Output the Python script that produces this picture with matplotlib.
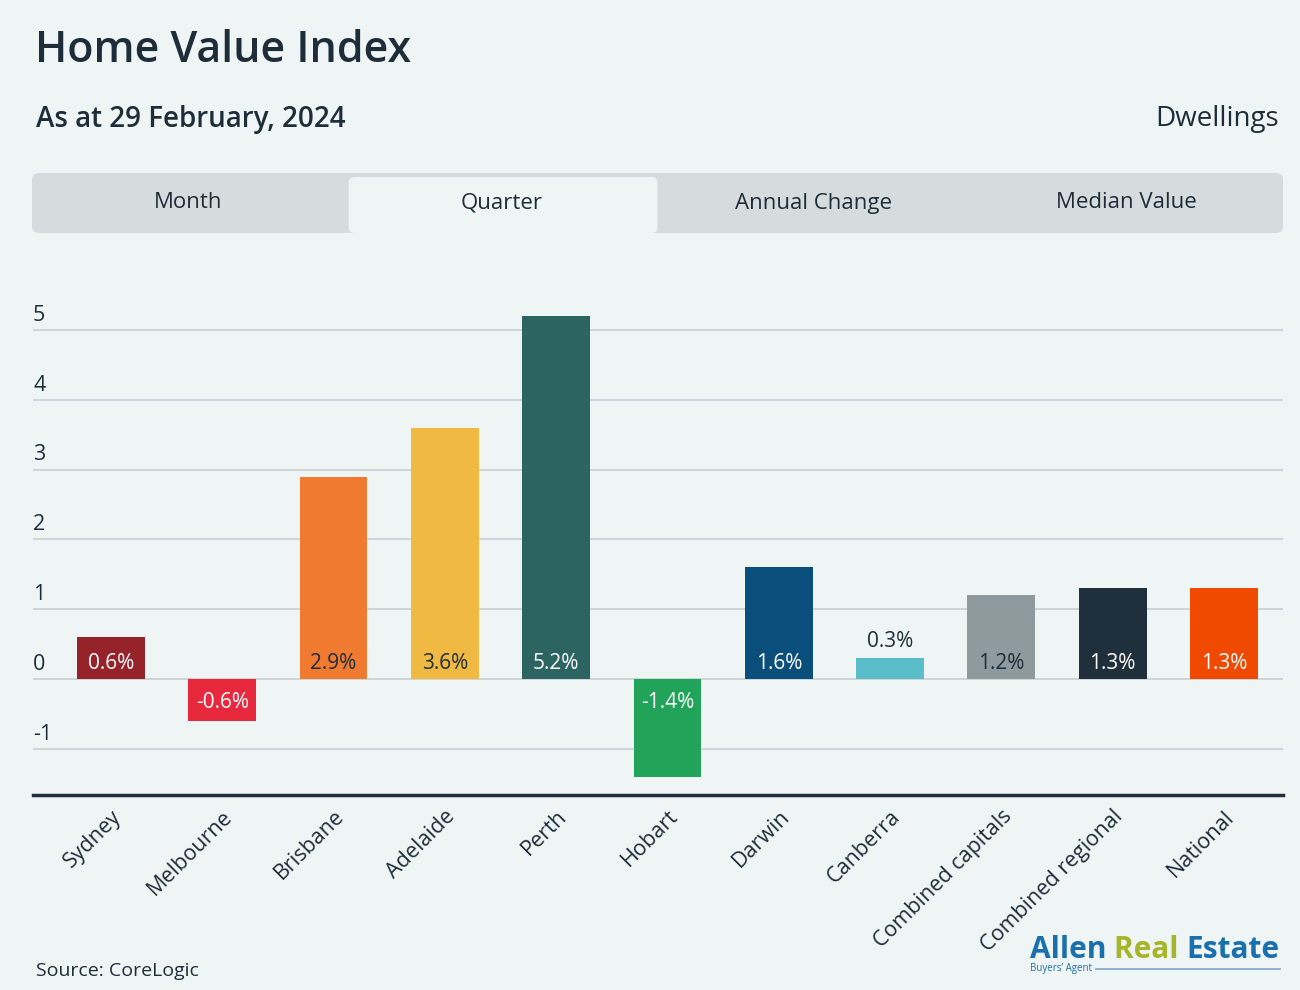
import matplotlib
matplotlib.use("Agg")
import matplotlib.pyplot as plt
from matplotlib.patches import FancyBboxPatch
from matplotlib.lines import Line2D

# data (quarterly change, %)
cities = ['Sydney', 'Melbourne', 'Brisbane', 'Adelaide', 'Perth', 'Hobart',
          'Darwin', 'Canberra', 'Combined capitals', 'Combined regional', 'National']
quarter_change = [0.6, -0.6, 2.9, 3.6, 5.2, -1.4, 1.6, 0.3, 1.2, 1.3, 1.3]
bar_colors = ['#96232a', '#e8283c', '#f07a30', '#f0b942', '#2b6460', '#21a45a',
              '#0a4f7c', '#5bbdc9', '#8f9a9e', '#1f2f3b', '#f04a00']
label_colors = ['white', 'white', '#1e2d3a', '#1e2d3a', 'white', 'white',
                'white', '#1e2d3a', '#1e2d3a', 'white', 'white']
y_ticks = [-1, 0, 1, 2, 3, 4, 5]
tabs = ['Month', 'Quarter', 'Annual Change', 'Median Value']
active_tab = 'Quarter'

BG = '#eff4f5'
TXT = '#1e2d3a'
plt.rcParams['font.family'] = ['Open Sans', 'DejaVu Sans']

fig = plt.figure(figsize=(13, 9.9), dpi=100, facecolor=BG)
W, H = 1300, 990


def fx(px):
    return px / W


def fy(py):
    return 1 - py / H


# header
fig.text(fx(35), fy(50), 'Home Value Index', fontsize=31, color=TXT, va='center', ha='left',
         fontweight='semibold')
fig.text(fx(36), fy(119), 'As at 29 February, 2024', fontsize=20, color=TXT, va='center',
         ha='left', fontweight='semibold')
fig.text(fx(1279), fy(119), 'Dwellings', fontsize=20, color=TXT, va='center', ha='right')

# tab strip
strip = FancyBboxPatch((fx(32), fy(233)), fx(1283) - fx(32), fy(173) - fy(233),
                       boxstyle='round,pad=0,rounding_size=0.006', transform=fig.transFigure,
                       facecolor='#d6dcdd', edgecolor='none')
fig.patches.append(strip)
tab_w = (1283 - 32) / len(tabs)
for i, name in enumerate(tabs):
    left = 32 + i * tab_w
    if name == active_tab:
        act = FancyBboxPatch((fx(left + 4), fy(233)), fx(tab_w - 4), fy(177) - fy(233),
                             boxstyle='round,pad=0,rounding_size=0.005',
                             transform=fig.transFigure, facecolor=BG, edgecolor='none')
        fig.patches.append(act)
    fig.text(fx(left + tab_w / 2), fy(203), name, fontsize=16, color=TXT,
             ha='center', va='center')

# chart
ax = fig.add_axes([fx(33), fy(795), fx(1283) - fx(33), fy(267) - fy(795)])
ax.set_facecolor(BG)
x = list(range(len(cities)))
ax.bar(x, quarter_change, width=0.61, color=bar_colors, zorder=3)
ax.set_xlim(-0.70, 10.53)
ax.set_ylim(-1.66, 5.9)
ax.set_yticks(y_ticks)
ax.yaxis.grid(True, color='#c8cfd3', linewidth=1.2, zorder=0)
ax.tick_params(axis='y', length=0, labelleft=False)
ax.tick_params(axis='x', length=0, pad=8)
ax.set_xticks(x)
ax.set_xticklabels(cities, rotation=45, ha='right', rotation_mode='anchor',
                   fontsize=15.5, color=TXT)
for s in ['top', 'left', 'right']:
    ax.spines[s].set_visible(False)
ax.spines['bottom'].set_color('#1f2f3b')
ax.spines['bottom'].set_linewidth(2.5)

for t in y_ticks:
    ax.annotate(str(t), xy=(0, t), xycoords=ax.get_yaxis_transform(),
                xytext=(0, 3), textcoords='offset points', ha='left', va='bottom',
                fontsize=15.5, color=TXT)

for xi, v, lc in zip(x, quarter_change, label_colors):
    txt = f'{v:.1f}%'
    if v < 0:
        ax.annotate(txt, xy=(xi, 0), xytext=(0, -17), textcoords='offset points',
                    ha='center', va='center', fontsize=15, color=lc, zorder=4)
    elif v < 0.5:
        ax.annotate(txt, xy=(xi, v), xytext=(0, 12), textcoords='offset points',
                    ha='center', va='center', fontsize=15, color=lc, zorder=4)
    else:
        ax.annotate(txt, xy=(xi, 0), xytext=(0, 11), textcoords='offset points',
                    ha='center', va='center', fontsize=15, color=lc, zorder=4)

# footer
fig.text(fx(36), fy(971), 'Source: CoreLogic', fontsize=14, color=TXT, va='center', ha='left')

# logo
renderer = fig.canvas.get_renderer()
lx = fx(1030)
for word, col in [('Allen ', '#1a6fad'), ('Real ', '#a7b52a'), ('Estate', '#1a6fad')]:
    t = fig.text(lx, fy(950), word, fontsize=21.5, fontweight='bold', color=col,
                 va='center', ha='left')
    bb = t.get_window_extent(renderer=renderer)
    lx = bb.x1 / W
t2 = fig.text(fx(1030), fy(969), "Buyers\u2019 Agent", fontsize=7, color='#1a6fad',
              va='center', ha='left')
bb2 = t2.get_window_extent(renderer=renderer)
fig.lines.append(Line2D([bb2.x1 / W + 0.003, lx], [fy(969), fy(969)], transform=fig.transFigure,
                        color='#7fa6c9', linewidth=1.2))

fig.savefig('out.png', dpi=100, facecolor=BG)
